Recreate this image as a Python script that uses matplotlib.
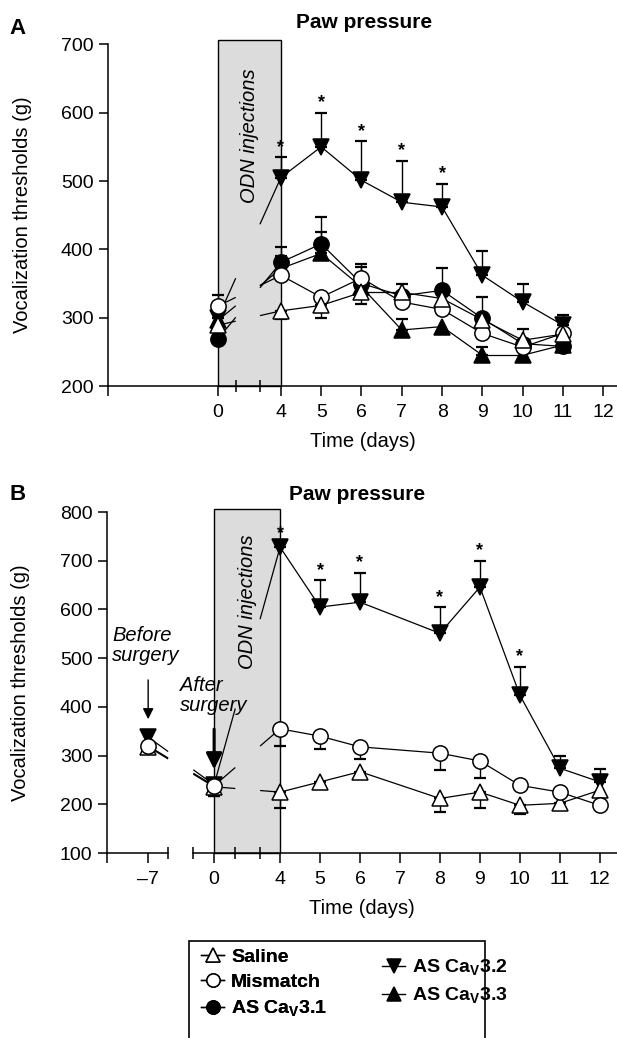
import numpy as np
import matplotlib
matplotlib.use("Agg")
import matplotlib.pyplot as plt
from matplotlib.lines import Line2D
from matplotlib.patches import Rectangle

plt.rcParams['font.family'] = ['Liberation Sans', 'DejaVu Sans']
plt.rcParams['mathtext.fontset'] = 'custom'
plt.rcParams['mathtext.rm'] = 'Liberation Sans'
plt.rcParams['mathtext.bf'] = 'Liberation Sans:bold'

# ---- panel A data (vocalization thresholds, g) ----
days_a = [0, 4, 5, 6, 7, 8, 9, 10, 11]
saline_a = [289, 310, 318, 337, 337, 328, 297, 267, 276]
mismatch_a = [317, 362, 330, 358, 323, 312, 277, 257, 277]
cav31_a = [269, 381, 408, 350, 332, 340, 299, 262, 258]
cav32_a = [300, 505, 550, 501, 469, 462, 362, 323, 289]
cav33_a = [296, 372, 394, 345, 282, 287, 245, 245, 260]
# signed SEM: + drawn upwards, - drawn downwards
saline_a_err = [0, -12, -19, -17, 13, 0, 0, 16, 0]
mismatch_a_err = [16, 0, 0, 0, -5, 0, -6, -5, 0]
cav31_a_err = [0, 22, 39, 29, 0, 33, 31, 0, 0]
cav32_a_err = [10, 30, 50, 57, 61, 34, 36, 27, 15]
cav33_a_err = [0, 18, 31, 29, 16, 0, 12, 0, 0]
stars_a = [4, 5, 6, 7, 8]

# ---- panel B data ----
days_b = [-7, 0, 4, 5, 6, 8, 9, 10, 11, 12]
saline_b = [318, 236, 225, 246, 267, 212, 225, 198, 202, 229]
mismatch_b = [320, 238, 355, 340, 318, 305, 289, 239, 225, 198]
cav32_b = [338, 240, 728, 605, 615, 551, 646, 424, 274, 246]
saline_b_err = [0, -18, -33, -8, -12, -27, -33, -18, -8, 0]
mismatch_b_err = [0, -21, -35, -27, -25, -35, -34, -10, -5, 0]
cav32_b_err = [0, 0, 8, 55, 60, 54, 54, 58, 25, 26]
stars_b = [4, 5, 6, 8, 9, 10]

# broken time axis: where each day sits on the drawing axis
pos_a = {0: 2.44}
pos_b = {-7: 0.7, 0: 2.35}
breaks_a = [(2.88, 3.48)]
breaks_b = [(1.2, 1.83), (2.88, 3.5)]

styles = {
    'saline': dict(marker='^', mfc='white'),
    'mismatch': dict(marker='o', mfc='white'),
    'cav31': dict(marker='o', mfc='black'),
    'cav32': dict(marker='v', mfc='black'),
    'cav33': dict(marker='^', mfc='black'),
}
MS = 11


def to_pos(days, table):
    return np.array([table.get(d, d) for d in days], dtype=float)


def broken_line(ax, x, y, breaks, z):
    for i in range(len(x) - 1):
        segs = [(x[i], x[i + 1])]
        for b0, b1 in breaks:
            new = []
            for s0, s1 in segs:
                if s0 < b0 and s1 > b1:
                    new += [(s0, b0), (b1, s1)]
                else:
                    new.append((s0, s1))
            segs = new
        for s0, s1 in segs:
            ys = np.interp([s0, s1], [x[i], x[i + 1]], [y[i], y[i + 1]])
            ax.plot([s0, s1], ys, color='black', lw=0.9, zorder=z - 0.5,
                    solid_capstyle='butt')


def series(ax, days, vals, err, table, breaks, key, z):
    st = styles[key]
    x = to_pos(days, table)
    y = np.array(vals, dtype=float)
    e = np.array(err, dtype=float)
    broken_line(ax, x, y, breaks, z)
    lower = np.where(e < 0, -e, 0)
    upper = np.where(e > 0, e, 0)
    keep = e != 0
    ax.errorbar(x[keep], y[keep], yerr=[lower[keep], upper[keep]], fmt='none',
                ecolor='black', elinewidth=1.0, capsize=4.5, capthick=1.6,
                zorder=z - 0.2)
    ax.plot(x, y, ls='none', marker=st['marker'], ms=MS, mfc=st['mfc'],
            mec='black', mew=1.1, zorder=z)


def add_stars(ax, star_days, days, vals, err, table):
    for d in star_days:
        i = days.index(d)
        ax.annotate('*', xy=(table.get(d, d), vals[i] + max(err[i], 0)),
                    xytext=(0, 1), textcoords='offset points', ha='center',
                    va='bottom', fontsize=13, fontweight='bold', zorder=10)


def frame(ax, xlim, ylim, ticks_pos, ticks_lab, minor):
    ax.set_xlim(*xlim)
    ax.set_ylim(*ylim)
    for s in ['top', 'right']:
        ax.spines[s].set_visible(False)
    for s in ['left', 'bottom']:
        ax.spines[s].set_linewidth(1.1)
    ax.set_xticks(ticks_pos)
    ax.set_xticklabels(ticks_lab)
    ax.set_xticks(minor, minor=True)
    ax.tick_params(axis='x', which='major', direction='out', length=7,
                   width=1.1, labelsize=14, pad=6)
    ax.tick_params(axis='x', which='minor', direction='inout', length=9,
                   width=1.1)
    ax.tick_params(axis='y', direction='out', length=6.5, width=1.1,
                   labelsize=14, pad=4)
    ax.set_xlabel('Time (days)', fontsize=14.5, labelpad=8)
    ax.set_ylabel('Vocalization thresholds (g)', fontsize=14.5)
    ax.yaxis.set_label_coords(-0.15, 0.5)


fig = plt.figure(figsize=(6.17, 10.38), dpi=100)

# ---------------- panel A ----------------
ax1 = fig.add_axes([0.175, 0.6281, 0.825, 0.3292])
frame(ax1, (-0.29, 12.34), (200, 700),
      [-0.29, 2.44] + list(range(4, 13)), [''] + ['0'] + [str(d) for d in range(4, 13)],
      [2.88, 3.48])
ax1.add_patch(Rectangle((2.44, 200), 4 - 2.44, 507, facecolor='#dcdcdc',
                        edgecolor='black', lw=1.0, zorder=1, clip_on=False))
ax1.text(3.22, 567, 'ODN injections', rotation=90, style='italic',
         fontsize=14.5, ha='center', va='center', zorder=2)
series(ax1, days_a, cav32_a, cav32_a_err, pos_a, breaks_a, 'cav32', 3)
series(ax1, days_a, cav33_a, cav33_a_err, pos_a, breaks_a, 'cav33', 4)
series(ax1, days_a, cav31_a, cav31_a_err, pos_a, breaks_a, 'cav31', 5)
series(ax1, days_a, mismatch_a, mismatch_a_err, pos_a, breaks_a, 'mismatch', 6)
series(ax1, days_a, saline_a, saline_a_err, pos_a, breaks_a, 'saline', 7)
add_stars(ax1, stars_a, days_a, cav32_a, cav32_a_err, pos_a)

# ---------------- panel B ----------------
ax2 = fig.add_axes([0.1734, 0.1782, 0.8266, 0.3285])
frame(ax2, (-0.33, 12.43), (100, 800),
      [-0.33, 0.7, 2.35] + list(range(4, 13)),
      ['', '\u20137', '0'] + [str(d) for d in range(4, 13)],
      [1.2, 1.83, 2.88, 3.5])
# axis break gap on the time axis
ax2.spines['bottom'].set_visible(False)
tr = ax2.get_xaxis_transform()
ax2.plot([-0.33, 1.2], [0, 0], color='black', lw=1.1, transform=tr, clip_on=False)
ax2.plot([1.83, 12.43], [0, 0], color='black', lw=1.1, transform=tr, clip_on=False)
ax2.add_patch(Rectangle((2.35, 100), 4 - 2.35, 707, facecolor='#dcdcdc',
                        edgecolor='black', lw=1.0, zorder=1, clip_on=False))
ax2.text(3.18, 615, 'ODN injections', rotation=90, style='italic',
         fontsize=14.5, ha='center', va='center', zorder=2)
series(ax2, days_b, cav32_b, cav32_b_err, pos_b, breaks_b, 'cav32', 3)
series(ax2, days_b, saline_b, saline_b_err, pos_b, breaks_b, 'saline', 5)
series(ax2, days_b, mismatch_b, mismatch_b_err, pos_b, breaks_b, 'mismatch', 6)
add_stars(ax2, stars_b, days_b, cav32_b, cav32_b_err, pos_b)

ax2.text(-0.2, 566, 'Before\nsurgery', style='italic', fontsize=14.5,
         ha='left', va='top', linespacing=1.05, zorder=9)
ax2.annotate('', xy=(0.7, 369), xytext=(0.7, 461),
             arrowprops=dict(arrowstyle='-|>', color='black', lw=1.0,
                             mutation_scale=16), zorder=9)
ax2.text(1.5, 463, 'After\nsurgery', style='italic', fontsize=14.5,
         ha='left', va='top', linespacing=1.05, zorder=9)
ax2.annotate('', xy=(2.35, 266), xytext=(2.35, 360),
             arrowprops=dict(arrowstyle='-|>', color='black', lw=2.2,
                             mutation_scale=24), zorder=9)

# titles and panel letters
fig.text(364 / 617, 1 - 22 / 1038, 'Paw pressure', ha='center', va='center',
         fontsize=15, fontweight='bold')
fig.text(357 / 617, 1 - 495 / 1038, 'Paw pressure', ha='center', va='center',
         fontsize=15, fontweight='bold')
fig.text(18 / 617, 1 - 28 / 1038, 'A', ha='center', va='center', fontsize=16,
         fontweight='bold')
fig.text(18 / 617, 1 - 494 / 1038, 'B', ha='center', va='center', fontsize=16,
         fontweight='bold')

# legend
fig.add_artist(Rectangle((189 / 617, -0.01), (485 - 189) / 617, 0.01 + (1038 - 941) / 1038,
                         transform=fig.transFigure, fill=False, lw=1.2,
                         edgecolor='black'))


def handle(key):
    st = styles[key]
    return Line2D([], [], color='black', lw=1.0, marker=st['marker'], ms=9.5,
                  mfc=st['mfc'], mec='black', mew=1.1)


leg1 = fig.legend([handle('saline'), handle('mismatch'), handle('cav31')],
                  ['Saline', 'Mismatch', r'AS Ca$_\mathbf{V}$3.1'],
                  loc='upper left', bbox_to_anchor=(201 / 617, 1 - 948 / 1038),
                  frameon=False, handlelength=1.2, handletextpad=0.35,
                  labelspacing=0.4, borderpad=0, borderaxespad=0,
                  prop=dict(size=14, weight='bold'))
fig.add_artist(leg1)
fig.legend([handle('cav32'), handle('cav33')],
           [r'AS Ca$_\mathbf{V}$3.2', r'AS Ca$_\mathbf{V}$3.3'],
           loc='upper left', bbox_to_anchor=(382 / 617, 1 - 958 / 1038),
           frameon=False, handlelength=1.2, handletextpad=0.35,
           labelspacing=0.4, borderpad=0, borderaxespad=0,
           prop=dict(size=14, weight='bold'))

fig.savefig('out.png', dpi=100)
